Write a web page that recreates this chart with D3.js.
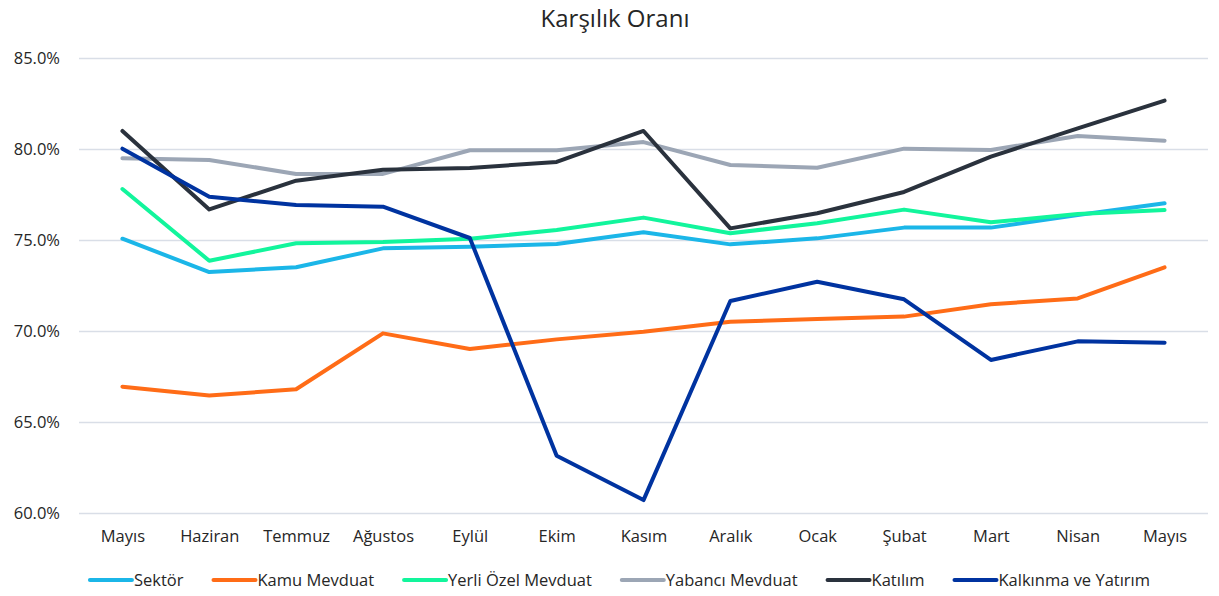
<!doctype html>
<html lang="tr">
<head>
<meta charset="UTF-8">
<title>Karşılık Oranı</title>
<script src="https://cdn.jsdelivr.net/npm/d3@7"></script>
<style>
  body { margin: 0; background: #fff; }
  text { font-family: "Open Sans", sans-serif; fill: #262626; }
</style>
</head>
<body>
<div id="chart"></div>
<script>
// months on the x axis (first and last are both May)
var months = ["Mayıs", "Haziran", "Temmuz", "Ağustos", "Eylül", "Ekim", "Kasım", "Aralık", "Ocak", "Şubat", "Mart", "Nisan", "Mayıs"];
var yTicks = [60, 65, 70, 75, 80, 85];

var seriesNames = ["Sektör", "Kamu Mevduat", "Yerli Özel Mevduat", "Yabancı Mevduat", "Katılım", "Kalkınma ve Yatırım"];
var seriesColors = ["#1bb6e8", "#ff6c17", "#12f59c", "#9ca6b5", "#2a323d", "#0033a0"];

var sektor = [75.07, 73.24, 73.50, 74.54, 74.63, 74.78, 75.42, 74.76, 75.09, 75.68, 75.68, 76.37, 77.02];
var kamu = [66.94, 66.45, 66.80, 69.87, 69.01, 69.54, 69.96, 70.51, 70.66, 70.79, 71.47, 71.79, 73.50];
var yerliOzel = [77.80, 73.86, 74.82, 74.89, 75.07, 75.55, 76.23, 75.37, 75.92, 76.67, 75.97, 76.43, 76.65];
var yabanci = [79.49, 79.40, 78.63, 78.63, 79.93, 79.93, 80.38, 79.12, 78.97, 80.02, 79.95, 80.71, 80.46];
var katilim = [80.99, 76.68, 78.26, 78.86, 78.96, 79.29, 80.99, 75.64, 76.47, 77.64, 79.58, 81.13, 82.66];
var kalkinma = [80.02, 77.38, 76.92, 76.83, 75.11, 63.15, 60.71, 71.65, 72.71, 71.74, 68.41, 69.43, 69.36];

var allSeries = [sektor, kamu, yerliOzel, yabanci, katilim, kalkinma];

var width = 1219, height = 596;
var margin = {top: 58, right: 11, bottom: 83, left: 79};

var svg = d3.select("#chart").append("svg")
    .attr("width", width)
    .attr("height", height);

// title
svg.append("text")
    .attr("x", 615)
    .attr("y", 27)
    .attr("text-anchor", "middle")
    .style("font-size", "24px")
    .text("Karşılık Oranı");

var x = d3.scalePoint()
    .domain(d3.range(months.length))
    .range([margin.left, width - margin.right])
    .padding(0.5);

var y = d3.scaleLinear()
    .domain([60, 85])
    .range([height - margin.bottom, margin.top]);

// gridlines + y labels
var yAxis = svg.append("g")
    .attr("transform", "translate(" + margin.left + ",0)")
    .call(d3.axisLeft(y)
        .tickValues(yTicks)
        .tickSize(-(width - margin.left - margin.right))
        .tickPadding(19)
        .tickFormat(function (d) { return d.toFixed(1) + "%"; }));
yAxis.select(".domain").remove();
yAxis.selectAll("line").attr("stroke", "#d9dee7").attr("stroke-width", 1.5);
yAxis.selectAll("text").style("font-size", "16.5px").attr("fill", "#262626");

// x labels
var xAxis = svg.append("g")
    .attr("transform", "translate(0," + (height - margin.bottom) + ")")
    .call(d3.axisBottom(x)
        .tickSize(0)
        .tickPadding(17)
        .tickFormat(function (i) { return months[i]; }));
xAxis.select(".domain").remove();
xAxis.selectAll("text").style("font-size", "16.5px").attr("fill", "#262626");

// lines
var line = d3.line()
    .x(function (d, i) { return x(i); })
    .y(function (d) { return y(d); });

svg.append("g")
    .selectAll("path")
    .data(allSeries)
    .enter()
    .append("path")
    .attr("fill", "none")
    .attr("stroke", function (d, i) { return seriesColors[i]; })
    .attr("stroke-width", 4)
    .attr("stroke-linejoin", "round")
    .attr("stroke-linecap", "round")
    .attr("d", line);

// legend
var legend = svg.append("g");
var cursor = 0;
seriesNames.forEach(function (name, i) {
    var g = legend.append("g").attr("transform", "translate(" + cursor + ",0)");
    g.append("line")
        .attr("x1", 2).attr("x2", 44)
        .attr("y1", 0).attr("y2", 0)
        .attr("stroke", seriesColors[i])
        .attr("stroke-width", 4)
        .attr("stroke-linecap", "round");
    var t = g.append("text")
        .attr("x", 46)
        .attr("y", 6)
        .style("font-size", "16.5px")
        .text(name);
    cursor += 46 + t.node().getComputedTextLength() + 28;
});
var legendWidth = cursor - 28;
legend.attr("transform", "translate(" + (619 - legendWidth / 2) + ",580)");
</script>
</body>
</html>
